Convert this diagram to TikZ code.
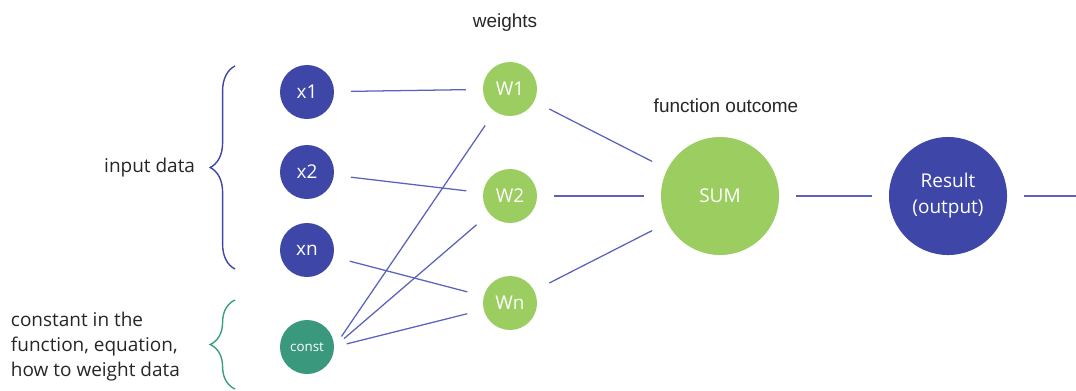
\documentclass[tikz,border=0pt]{standalone}
\usepackage{fontspec}
\setmainfont{Open Sans}
\newfontfamily\headfont{Liberation Sans}
\definecolor{inblue}{RGB}{62, 71, 168}
\definecolor{wgreen}{RGB}{155, 205, 96}
\definecolor{constteal}{RGB}{58, 152, 124}
\definecolor{linkblue}{RGB}{90, 98, 188}
\definecolor{bracegreen}{RGB}{60, 160, 122}
\usetikzlibrary{decorations.pathreplacing}
\tikzset{
	innode/.style={circle, fill=inblue, text=white, inner sep=0pt, minimum size=1.35cm, font=\fontsize{13.5}{16}\selectfont},
	constnode/.style={circle, fill=constteal, text=white, inner sep=0pt, minimum size=1.35cm, font=\fontsize{9.5}{11}\selectfont},
	wnode/.style={circle, fill=wgreen, text=white, inner sep=0pt, minimum size=1.35cm, font=\fontsize{13.5}{16}\selectfont},
	bignode/.style={circle, inner sep=0pt, minimum size=2.95cm, text=white, align=center, font=\fontsize{13.5}{18.5}\selectfont},
	link/.style={draw=linkblue, line width=0.9pt, shorten <=0.42cm, shorten >=0.42cm},
	headlabel/.style={font=\headfont\fontsize{13.5}{16}\selectfont, text=black!85},
	sidelabel/.style={font=\fontsize{13.5}{17.8}\selectfont, text=black!85, align=left},
	bracedeco/.style={decorate, decoration={brace, amplitude=0.62cm}, line width=1pt},
}

\begin{document}
\begin{tikzpicture}[x=0.025cm, y=-0.025cm]
	\useasboundingbox (0,0) rectangle (1076,390);
	% inputs
	\node[innode] (x1) at (307,92) {x1};
	\node[innode] (x2) at (307,172) {x2};
	\node[innode] (xn) at (307,250) {xn};
	\node[constnode] (const) at (307,347) {const};
	% weights
	\node[wnode] (w1) at (510,89) {W1};
	\node[wnode] (w2) at (510,196) {W2};
	\node[wnode] (wn) at (510,303) {Wn};
	\node[bignode, fill=wgreen] (sum) at (720,196) {SUM};
	\node[bignode, fill=inblue] (result) at (948,196) {Result\\(output)};
	\coordinate (outend) at (1076,196);
	% labels
	\node[headlabel] (weights) at (505,23) {weights};
	\node[headlabel] (outcome) at (726,106) {function outcome};
	\node[sidelabel, anchor=east] (inlabel) at (200,168) {input data};
	\node[sidelabel, anchor=west] (constlabel) at (6,347) {constant in the\\function, equation,\\how to weight data};
	% braces
	\draw[bracedeco, draw=inblue] (235,269) -- (235,66);
	\draw[bracedeco, draw=bracegreen] (235,389) -- (235,300);
	% connections
	\draw[link] (x1) -- (w1);
	\draw[link] (x2) -- (w2);
	\draw[link] (xn) -- (wn);
	\foreach \w in {w1,w2,wn}{\draw[link, shorten <=0.32cm] (const.east) -- (\w);}
	\foreach \w in {w1,w2,wn}{\draw[link] (\w) -- (sum);}
	\draw[link] (sum) -- (result);
	\draw[link, shorten >=0pt] (result) -- (outend);
\end{tikzpicture}
\end{document}
